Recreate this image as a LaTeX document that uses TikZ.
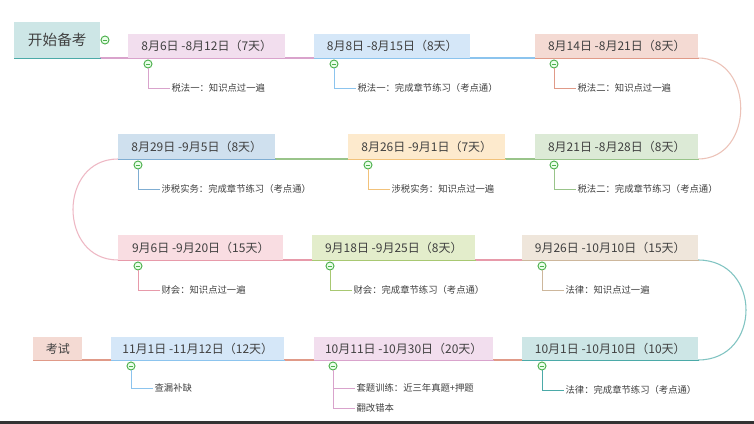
\documentclass[tikz,border=0pt]{standalone}
\usepackage{fontspec}
\setmainfont{Noto Sans CJK SC}
\begin{document}
\begin{tikzpicture}[x=0.75pt,y=-0.75pt,
  lbl/.style={font=\fontsize{9}{10}\selectfont,text=black!75},
  ch/.style={font=\fontsize{7}{8}\selectfont,text=black!75,anchor=west,inner sep=1pt},
  tog/.style={circle,draw=green!55!black!70,fill=green!8,line width=0.7pt,minimum size=6pt,inner sep=0pt,
    path picture={\draw[green!55!black!70,line width=0.6pt]([xshift=-1.8pt]path picture bounding box.center)--([xshift=1.8pt]path picture bounding box.center);}}]
\useasboundingbox (0,0) rectangle (754,424);
\fill[white] (0,0) rectangle (754,424);
\fill[black!80] (0,421) rectangle (754,424);
\newcommand\bx[8]{%
  \node[fill=#6,minimum width={(#3-#2)*0.75pt},minimum height={(#5-#4)*0.75pt},inner sep=0pt,anchor=north west,lbl] (#1) at (#2,#4) {#8};
  \draw[#7,line width=1.2pt] (#1.south west)--(#1.south east);}
% colours
\definecolor{cT}{HTML}{CDE6E6}\definecolor{lT}{HTML}{4BAAA8}
\definecolor{cP}{HTML}{F2DEEE}\definecolor{lP}{HTML}{D9A3CC}
\definecolor{cB}{HTML}{D5E7F8}\definecolor{lB}{HTML}{8CC4EE}
\definecolor{cS}{HTML}{F4DAD3}\definecolor{lS}{HTML}{E09A88}
\definecolor{cB2}{HTML}{CFE0EE}\definecolor{lB2}{HTML}{7FADD2}
\definecolor{cO}{HTML}{FDEACD}\definecolor{lO}{HTML}{F2C27A}
\definecolor{cG}{HTML}{DCEAD6}\definecolor{lG}{HTML}{99C48A}
\definecolor{cR}{HTML}{F9DDE2}\definecolor{lR}{HTML}{E79AAA}
\definecolor{cY}{HTML}{E3EDCB}\definecolor{lY}{HTML}{A8C872}
\definecolor{cE}{HTML}{EFE6DB}\definecolor{lE}{HTML}{CDB79C}
% connecting lines
\draw[lP,line width=0.8pt] (14,58)--(314,58);
\draw[lB,line width=0.8pt] (314,58)--(535,58);
\draw[lS,line width=0.8pt] (535,58)--(698,58);
\coordinate (c1) at (698,159);
\draw[lS!60,line width=0.8pt] (698,58) .. controls (755,58) and (755,159) .. (c1);
\draw[lG,line width=0.8pt] (118,159)--(698,159);
\coordinate (c2) at (118,260);
\draw[lR!70,line width=0.8pt] (118,159) .. controls (58,159) and (58,260) .. (c2);
\draw[lR,line width=0.8pt] (118,260)--(698,260);
\coordinate (c3) at (698,360);
\draw[lT!70,line width=0.8pt] (698,260) .. controls (762,260) and (762,360) .. (c3);
\draw[lS,line width=0.8pt] (33,360)--(698,360);
% boxes
\bx{s}{14}{100}{22}{58}{cT}{lT}{\fontsize{11}{12}\selectfont 开始备考}
\bx{b1}{128}{285}{34}{58}{cP}{lP}{8月6日 -8月12日（7天）}
\bx{b2}{314}{470}{34}{58}{cB}{lB}{8月8日 -8月15日（8天）}
\bx{b3}{535}{698}{34}{58}{cS}{lS}{8月14日 -8月21日（8天）}
\bx{b4}{118}{275}{134}{159}{cB2}{lB2}{8月29日 -9月5日（8天）}
\bx{b5}{348}{505}{134}{159}{cO}{lO}{8月26日 -9月1日（7天）}
\bx{b6}{535}{698}{134}{159}{cG}{lG}{8月21日 -8月28日（8天）}
\bx{b7}{118}{283}{235}{260}{cR}{lR}{9月6日 -9月20日（15天）}
\bx{b8}{312}{475}{235}{260}{cY}{lY}{9月18日 -9月25日（8天）}
\bx{b9}{522}{698}{235}{260}{cE}{lE}{9月26日 -10月10日（15天）}
\bx{ex}{33}{82}{337}{360}{cS}{lS}{考试}
\bx{b10}{111}{284}{337}{360}{cB}{lB}{11月1日 -11月12日（12天）}
\bx{b11}{314}{493}{337}{360}{cP}{lP}{10月11日 -10月30日（20天）}
\bx{b12}{522}{698}{337}{360}{cT}{lT}{10月1日 -10月10日（10天）}
\node[tog] (ts) at (105,40) {};
% children
\newcommand\kid[6]{%
  \node[ch] (#1) at (#3+20,#4) {#6};
  \draw[#5,line width=0.7pt] (#2) |- (#1.west);}
\newcommand\tg[3]{\node[tog] (#1) at (#2,#3) {};}
\tg{t1}{148}{64}\kid{k1}{t1}{150}{88}{lP}{税法一：知识点过一遍}
\tg{t2}{334}{64}\kid{k2}{t2}{336}{88}{lB}{税法一：完成章节练习（考点通）}
\tg{t3}{554}{64}\kid{k3}{t3}{556}{88}{lS}{税法二：知识点过一遍}
\tg{t4}{138}{165}\kid{k4}{t4}{140}{189}{lB2}{涉税实务：完成章节练习（考点通）}
\tg{t5}{368}{165}\kid{k5}{t5}{370}{189}{lO}{涉税实务：知识点过一遍}
\tg{t6}{554}{165}\kid{k6}{t6}{556}{189}{lG}{税法二：完成章节练习（考点通）}
\tg{t7}{138}{266}\kid{k7}{t7}{140}{290}{lR}{财会：知识点过一遍}
\tg{t8}{330}{266}\kid{k8}{t8}{332}{290}{lY}{财会：完成章节练习（考点通）}
\tg{t9}{542}{266}\kid{k9}{t9}{544}{290}{lE}{法律：知识点过一遍}
\tg{t10}{131}{366}\kid{k10}{t10}{133}{388}{lB}{查漏补缺}
\tg{t11}{333}{366}\kid{k11}{t11}{335}{388}{lP}{套题训练：近三年真题+押题}
\kid{k11b}{t11}{335}{408}{lP}{翻改错本}
\tg{t12}{542}{366}\kid{k12}{t12}{544}{390}{lT}{法律：完成章节练习（考点通）}
\end{tikzpicture}
\end{document}
